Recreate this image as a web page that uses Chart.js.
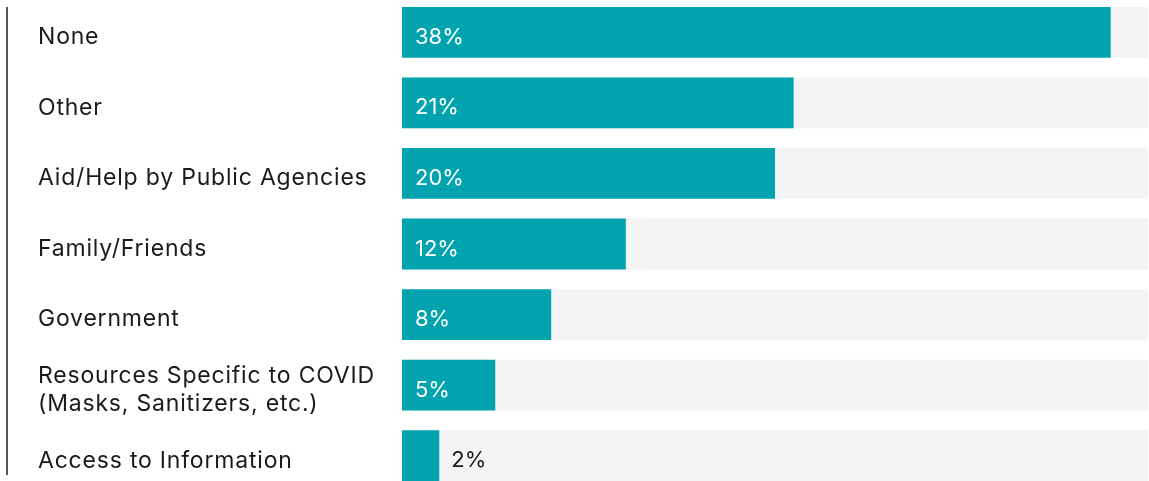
<!DOCTYPE html>
<html lang="en">
<head>
    <meta charset="UTF-8">
    <title>Sources of Support</title>
    <script src="https://cdn.jsdelivr.net/npm/chart.js"></script>
    <style>
        html, body { margin: 0; padding: 0; background: #fff; overflow: hidden; }
        #wrap { position: absolute; left: 0; top: -3px; width: 1149px; height: 494px; }
        #rule { position: absolute; left: 6px; top: 7px; height: 468px; border-left: 2px solid #555; }
    </style>
</head>
<body>
    <div id="rule"></div>
    <div id="wrap"><canvas id="chart"></canvas></div>

    <script>
        // Data
        const categories = [
            'None',
            'Other',
            'Aid/Help by Public Agencies',
            'Family/Friends',
            'Government',
            ['Resources Specific to COVID', '(Masks, Sanitizers, etc.)'],
            'Access to Information'
        ];
        const shares = [38, 21, 20, 12, 8, 5, 2];
        const trackMax = 40;

        const teal = '#00A3AE';
        const fontFamily = 'Inter, "Noto Sans", sans-serif';

        // category names on the left, drawn at the y scale's pixel for each row
        const categoryLabels = {
            id: 'categoryLabels',
            afterDraw(chart) {
                const ctx = chart.ctx;
                const y = chart.scales.y;
                ctx.save();
                ctx.font = '23px ' + fontFamily;
                ctx.letterSpacing = '0.8px';
                ctx.fillStyle = '#1a1a1a';
                ctx.textBaseline = 'middle';
                ctx.textAlign = 'left';
                categories.forEach((c, i) => {
                    const lines = Array.isArray(c) ? c : [c];
                    const lh = 28;
                    const y0 = y.getPixelForValue(i) + 5 - (lines.length - 1) * lh / 2;
                    lines.forEach((ln, k) => ctx.fillText(ln, 38, y0 + k * lh));
                });
                ctx.restore();
            }
        };

        // value labels inside the bar, or just past its end when the bar is short
        const valueLabels = {
            id: 'valueLabels',
            afterDatasetsDraw(chart) {
                const ctx = chart.ctx;
                const meta = chart.getDatasetMeta(0);
                ctx.save();
                ctx.font = '22px ' + fontFamily;
                ctx.textBaseline = 'middle';
                ctx.textAlign = 'left';
                meta.data.forEach((bar, i) => {
                    const txt = shares[i] + '%';
                    const w = ctx.measureText(txt).width;
                    if (bar.x - bar.base > w + 28) {
                        ctx.fillStyle = '#fff';
                        ctx.fillText(txt, bar.base + 13, bar.y + 5);
                    } else {
                        ctx.fillStyle = '#1a1a1a';
                        ctx.fillText(txt, bar.x + 12, bar.y + 5);
                    }
                });
                ctx.restore();
            }
        };

        new Chart(document.getElementById('chart'), {
            type: 'bar',
            data: {
                labels: categories,
                datasets: [{
                    data: shares,
                    backgroundColor: teal,
                    order: 0,
                    grouped: false,
                    barPercentage: 0.72,
                    categoryPercentage: 1
                }, {
                    data: categories.map(() => trackMax),
                    backgroundColor: '#F4F4F4',
                    order: 1,
                    grouped: false,
                    barPercentage: 0.72,
                    categoryPercentage: 1
                }]
            },
            options: {
                indexAxis: 'y',
                responsive: true,
                maintainAspectRatio: false,
                animation: false,
                layout: { padding: { left: 402, right: 1, top: 0, bottom: 0 } },
                plugins: {
                    legend: { display: false },
                    tooltip: { enabled: false }
                },
                scales: {
                    x: { display: false, min: 0, max: trackMax },
                    y: { display: false }
                }
            },
            plugins: [valueLabels, categoryLabels]
        });
    </script>
</body>
</html>
